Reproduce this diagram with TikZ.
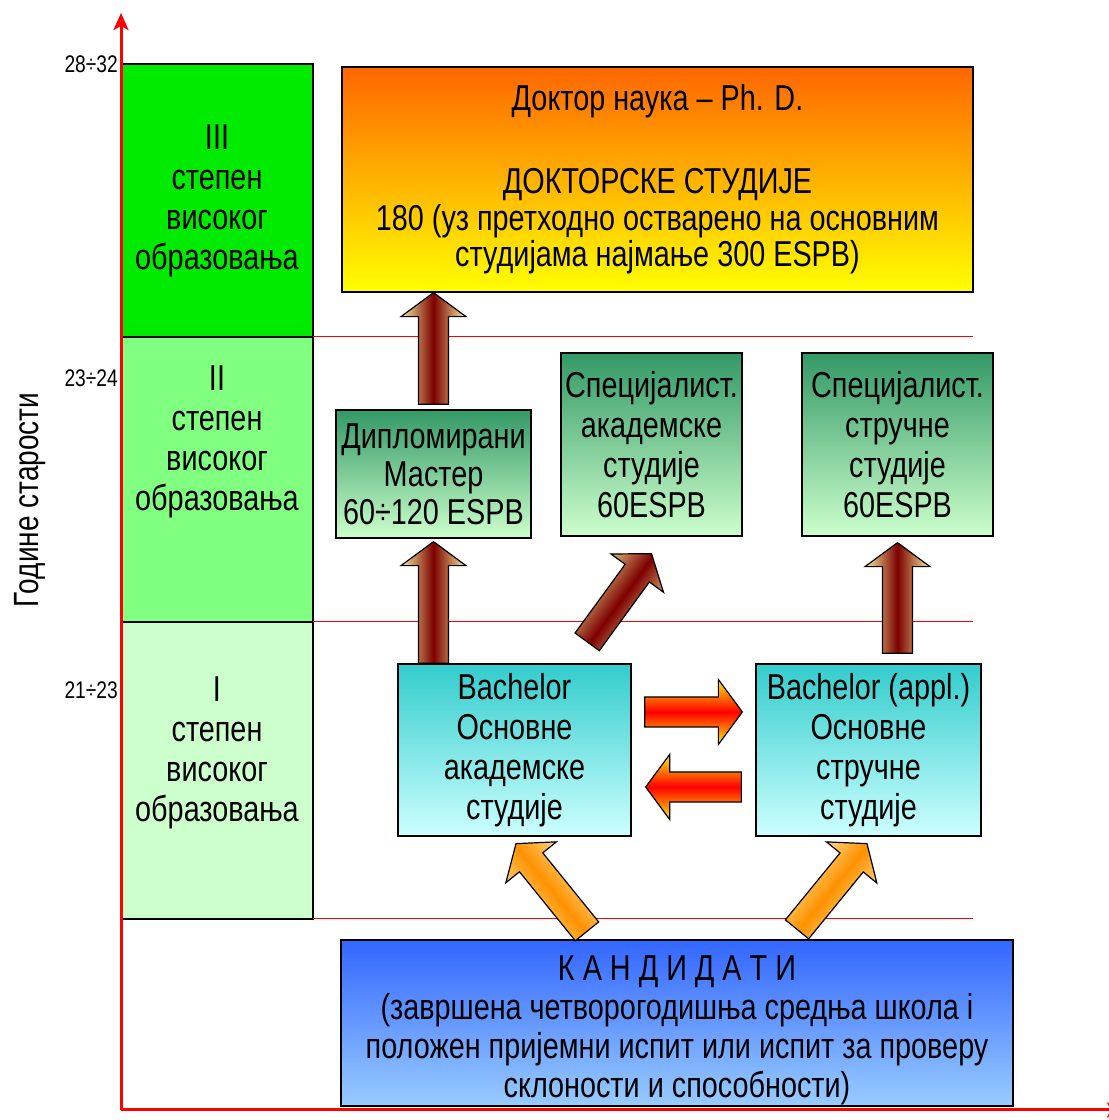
\documentclass[tikz,border=0pt]{standalone}
\usepackage{fontspec}
\setmainfont[FakeStretch=0.8]{Liberation Sans}
\usetikzlibrary{
	positioning,   %relative placement
	calc,          %coordinate calculation
	arrows.meta    %arrow tips
}
\definecolor{lvlIII}{RGB}{0,235,0}
\definecolor{lvlII}{RGB}{128,255,128}
\definecolor{lvlI}{RGB}{204,255,204}
\definecolor{docTop}{RGB}{255,102,0}
\definecolor{docBot}{RGB}{255,255,0}
\definecolor{msTop}{RGB}{51,153,102}
\definecolor{msBot}{RGB}{204,255,204}
\definecolor{baTop}{RGB}{51,204,204}
\definecolor{baBot}{RGB}{204,255,255}
\definecolor{kaTop}{RGB}{51,102,255}
\definecolor{kaBot}{RGB}{153,204,255}
\definecolor{tanEdge}{RGB}{248,238,155}
\definecolor{brownMid}{RGB}{125,0,0}
\definecolor{redEdge}{RGB}{255,240,0}
\definecolor{redMid}{RGB}{255,0,0}
\definecolor{oraEdge}{RGB}{255,240,170}
\definecolor{oraMid}{RGB}{255,145,0}
\newcommand{\bigfont}{\fontsize{36}{40}\selectfont}
% fat shaded arrow in style #1 from #2 to #3
\newcommand{\bigarrow}[3]{%
\path let \p1=(#2), \p2=(#3),
	\n1={atan2(\y2-\y1,\x2-\x1)}, \n2={veclen(\x2-\x1,\y2-\y1)-24pt} in
	coordinate (q1) at ($(\p1)+(\n1+90:15pt)$)
	coordinate (q2) at ($(\p1)+(\n1:\n2)+(\n1+90:15pt)$)
	coordinate (q3) at ($(\p1)+(\n1:\n2)+(\n1+90:32.5pt)$)
	coordinate (q4) at (\p2)
	coordinate (q5) at ($(\p1)+(\n1:\n2)+(\n1-90:32.5pt)$)
	coordinate (q6) at ($(\p1)+(\n1:\n2)+(\n1-90:15pt)$)
	coordinate (q7) at ($(\p1)+(\n1-90:15pt)$)
	\pgfextra{\xdef\arrowang{\n1}};
\path[#1, shading angle=\arrowang] (q1) -- (q2) -- (q3) -- (q4) -- (q5) -- (q6) -- (q7) -- cycle;}
\tikzset{
	every picture/.style={
		x=1pt, y=1pt,
		node distance=0pt
}}
\begin{document}
\begin{tikzpicture}
\tikzstyle{level}=[rectangle, draw=black, line width=1.3pt, outer sep=0pt, inner sep=0pt, minimum width=192pt]
\tikzstyle{grad}=[rectangle, draw=black, line width=1.3pt, align=center, inner sep=0pt, font=\bigfont]
\tikzstyle{lvltext}=[align=center, font=\bigfont]
\tikzstyle{age}=[anchor=east, inner sep=0pt, font=\fontsize{24}{24}\selectfont]
\tikzstyle{grid}=[red, line width=1pt]
\tikzstyle{axis}=[red, line width=3pt, -{Stealth[length=17pt,width=15pt,inset=4pt]}]
\tikzstyle{brown}=[draw=black, line width=1.2pt, left color=tanEdge, right color=tanEdge, middle color=brownMid]
\tikzstyle{redarr}=[draw=black, line width=1.2pt, left color=redEdge, right color=redEdge, middle color=redMid]
\tikzstyle{orange}=[draw=black, line width=1.2pt, left color=oraEdge, right color=oraEdge, middle color=oraMid]
\useasboundingbox (0,0) rectangle (1109,1120);
% levels of study
\node[level, fill=lvlIII, minimum height=273pt] (c3) at (217,919.5) {};
\node[level, fill=lvlII, minimum height=285pt, below=of c3] (c2) {};
\node[level, fill=lvlI, minimum height=297pt, below=of c2] (c1) {};
\node[lvltext] (t3) at (c3.center) {III\\степен\\високог\\образовања};
\node[lvltext] (t2) at ([yshift=38pt]c2.center) {II\\степен\\високог\\образовања};
\node[lvltext] (t1) at ([yshift=18pt]c1.center) {I\\степен\\високог\\образовања};
\coordinate (gridEnd) at (973,0);
\draw[grid] (c3.south east) -- (c3.south east -| gridEnd);
\draw[grid] (c2.south east) -- (c2.south east -| gridEnd);
\draw[grid] (c1.south east) -- (c1.south east -| gridEnd);
% programmes
\node[grad, top color=docTop, bottom color=docBot, minimum width=631pt, minimum height=225pt,
	font=\fontsize{36}{36.5}\selectfont] (doc) at (657.5,940.5)
	{Доктор наука – Ph. D.\\[46.5pt]ДОКТОРСКЕ СТУДИЈЕ\\180 (уз претходно остварено на основним\\студијама најмање 300 ESPB)};
\node[grad, top color=msTop, bottom color=msBot, minimum width=195pt, minimum height=128pt,
	font=\fontsize{36}{38}\selectfont] (ms) at (433.5,646) {Дипломирани\\Мастер\\60÷120 ESPB};
\node[grad, top color=msTop, bottom color=msBot, minimum width=181pt, minimum height=183pt] (specA) at (651.5,675.5)
	{Специјалист.\\академске\\студије\\60ESPB};
\node[grad, top color=msTop, bottom color=msBot, minimum width=191pt, minimum height=183pt] (specS) at (897.5,675.5)
	{Специјалист.\\стручне\\студије\\60ESPB};
\node[grad, top color=baTop, bottom color=baBot, minimum width=233pt, minimum height=172pt] (ba) at (514.5,370)
	{Bachelor\\Основне\\академске\\студије};
\node[grad, top color=baTop, bottom color=baBot, minimum width=225pt, minimum height=172pt] (baA) at (868.5,370)
	{Bachelor (appl.)\\Основне\\стручне\\студије};
\node[grad, top color=kaTop, bottom color=kaBot, minimum width=672pt, minimum height=166pt,
	font=\fontsize{36}{39}\selectfont] (ka) at (677,97)
	{\rule{0pt}{40pt}К А Н Д И Д А Т И\\(завршена четворогодишња средња школа і\\положен пријемни испит или испит за проверу\\склоности и способности)};
% axes
\coordinate (origin) at (121,10);
\coordinate (yTip) at (121,1107);
\coordinate (xTip) at (1124,10);
\draw[axis] (origin) -- (yTip);
\draw[axis] (origin) -- (xTip);
\node[age] (a3) at ([xshift=-3pt]c3.north west) {28÷32};
\node[age] (a2) at ([shift={(-3pt,-41pt)}]c2.north west) {23÷24};
\node[age] (a1) at ([shift={(-3pt,-68pt)}]c1.north west) {21÷23};
\node[rotate=90, font=\fontsize{35}{35}\selectfont] (ylab) at (30,620) {Године старости};
% transitions
\coordinate (dTail) at ([shift={(-44.5pt,21.5pt)}]ba.north east);
\coordinate (dTip) at ([yshift=-17pt]specA.south);
\bigarrow{brown}{[yshift=5pt]ms.north}{ms.north |- doc.south}
\bigarrow{brown}{ms.south |- ba.north}{[yshift=-3pt]ms.south}
\bigarrow{brown}{[yshift=10pt]specS.south |- baA.north}{[yshift=-6pt]specS.south}
\bigarrow{brown}{dTail}{dTip}
\bigarrow{redarr}{[shift={(13pt,38pt)}]ba.east}{[shift={(-13pt,38pt)}]baA.west}
\bigarrow{redarr}{[shift={(-14pt,-37pt)}]baA.west}{[shift={(14pt,-37pt)}]ba.east}
\coordinate (kTailL) at ([shift={(-90pt,8pt)}]ka.north);
\coordinate (kTailR) at ([shift={(120pt,10pt)}]ka.north);
\bigarrow{orange}{kTailL}{[shift={(1.5pt,-7pt)}]ba.south}
\bigarrow{orange}{kTailR}{[shift={(-1.5pt,-7pt)}]baA.south}
\end{tikzpicture}
\end{document}
